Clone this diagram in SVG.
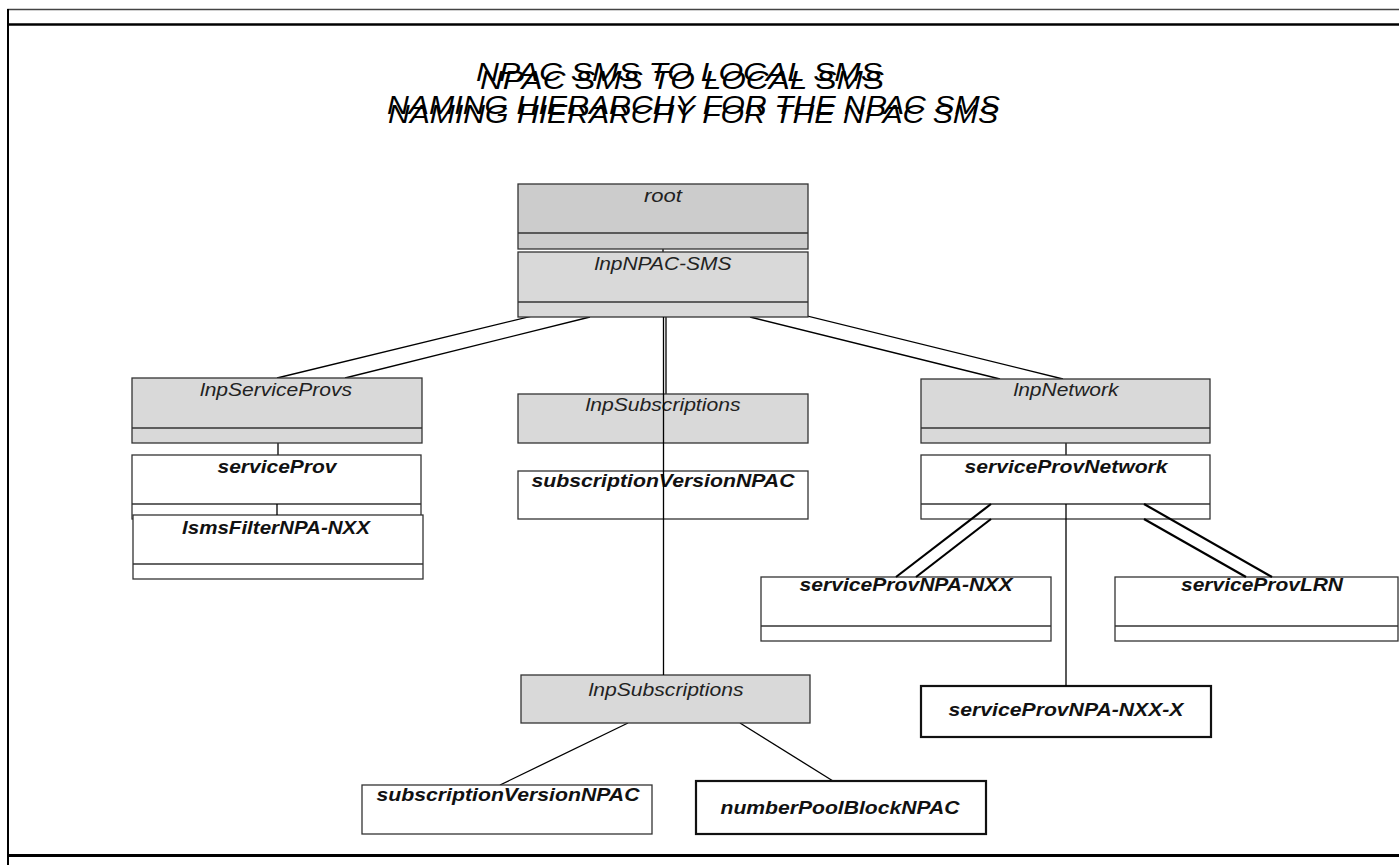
<svg xmlns="http://www.w3.org/2000/svg" width="1399" height="865" viewBox="0 0 1399 865">
<style>
.title{font-family:"Liberation Sans",Arial,sans-serif;font-style:italic;font-size:26px;fill:#000}
.lbl{font-family:"Liberation Sans",Arial,sans-serif;font-style:italic;font-size:18px;fill:#222;text-anchor:middle}
.blbl{font-family:"Liberation Sans",Arial,sans-serif;font-style:italic;font-weight:bold;font-size:18px;fill:#111;text-anchor:middle}
.dark{fill:#cccccc;stroke:#333;stroke-width:1.3}
.grey{fill:#d9d9d9;stroke:#333;stroke-width:1.3}
.white{fill:#fff;stroke:#333;stroke-width:1.3}
.thick{fill:#fff;stroke:#111;stroke-width:2.2}
.div{stroke:#333;stroke-width:1.3}
.con line{stroke:#000;stroke-width:1.3}
.con line.b{stroke-width:2.2}
</style>
<rect width="1399" height="865" fill="#fff"/>
<g id="frame">
<rect x="8" y="9.5" width="1400" height="846" fill="none" stroke="#444" stroke-width="1.5"/>
<line x1="8" y1="24.5" x2="1399" y2="24.5" stroke="#000" stroke-width="2.5"/>
<line x1="8" y1="855.5" x2="1399" y2="855.5" stroke="#000" stroke-width="3"/>
<line x1="8" y1="9" x2="8" y2="865" stroke="#000" stroke-width="2"/>
</g>
<g id="title">
<text class="title" x="476" y="81" textLength="406" lengthAdjust="spacingAndGlyphs">NPAC SMS TO LOCAL SMS</text>
<text class="title" x="480" y="89" textLength="404" lengthAdjust="spacingAndGlyphs">NPAC SMS TO LOCAL SMS</text>
<text class="title" x="387" y="114" textLength="613" lengthAdjust="spacingAndGlyphs">NAMING HIERARCHY FOR THE NPAC SMS</text>
<text class="title" x="388" y="123" textLength="610" lengthAdjust="spacingAndGlyphs">NAMING HIERARCHY FOR THE NPAC SMS</text>
</g>
<g class="con" id="connectors">
<line x1="663" y1="249" x2="663" y2="252"/>
<line x1="666" y1="302" x2="666" y2="394"/>
<line x1="590" y1="302" x2="277" y2="378"/>
<line x1="590" y1="317" x2="345" y2="378"/>
<line x1="750" y1="302" x2="1063" y2="379"/>
<line x1="750" y1="317" x2="1000" y2="379"/>
<line x1="278" y1="428" x2="278" y2="455"/>
<line x1="1066" y1="428" x2="1066" y2="455"/>
<line x1="628" y1="723" x2="500" y2="785"/>
<line x1="740" y1="723" x2="833" y2="781"/>
</g>
<g id="root"><rect class="dark" x="518" y="184" width="290" height="65"/><line class="div" x1="518" y1="233" x2="808" y2="233"/><text class="lbl" x="663" y="202" textLength="38" lengthAdjust="spacingAndGlyphs">root</text></g>
<g id="lnpNPAC"><rect class="grey" x="518" y="252" width="290" height="65"/><line class="div" x1="518" y1="302" x2="808" y2="302"/><text class="lbl" x="663" y="270" textLength="137" lengthAdjust="spacingAndGlyphs">lnpNPAC-SMS</text></g>
<g id="lnpServiceProvs"><rect class="grey" x="132" y="378" width="290" height="65"/><line class="div" x1="132" y1="428" x2="422" y2="428"/><text class="lbl" x="276" y="396" textLength="152" lengthAdjust="spacingAndGlyphs">lnpServiceProvs</text></g>
<g id="serviceProv"><rect class="white" x="132" y="455" width="289" height="64"/><line class="div" x1="132" y1="504" x2="421" y2="504"/><text class="blbl" x="277" y="473" textLength="119" lengthAdjust="spacingAndGlyphs">serviceProv</text></g>
<g id="lsmsFilter"><rect class="white" x="133" y="515" width="290" height="64"/><line class="div" x1="133" y1="564" x2="423" y2="564"/><text class="blbl" x="276" y="534" textLength="188" lengthAdjust="spacingAndGlyphs">lsmsFilterNPA-NXX</text></g>
<g id="lnpSubscriptions1"><rect class="grey" x="518" y="394" width="290" height="49"/><text class="lbl" x="663" y="411" textLength="155" lengthAdjust="spacingAndGlyphs">lnpSubscriptions</text></g>
<g id="subscriptionVersion1"><rect class="white" x="518" y="471" width="290" height="48"/><text class="blbl" x="663" y="487" textLength="263" lengthAdjust="spacingAndGlyphs">subscriptionVersionNPAC</text></g>
<g id="lnpNetwork"><rect class="grey" x="921" y="379" width="289" height="64"/><line class="div" x1="921" y1="428" x2="1210" y2="428"/><text class="lbl" x="1066" y="396" textLength="105" lengthAdjust="spacingAndGlyphs">lnpNetwork</text></g>
<g id="serviceProvNetwork"><rect class="white" x="921" y="455" width="289" height="64"/><line class="div" x1="921" y1="504" x2="1210" y2="504"/><text class="blbl" x="1066" y="473" textLength="203" lengthAdjust="spacingAndGlyphs">serviceProvNetwork</text></g>
<g id="serviceProvNPANXX"><rect class="white" x="761" y="577" width="290" height="64"/><line class="div" x1="761" y1="626" x2="1051" y2="626"/><text class="blbl" x="906" y="591" textLength="213" lengthAdjust="spacingAndGlyphs">serviceProvNPA-NXX</text></g>
<g id="serviceProvLRN"><rect class="white" x="1115" y="577" width="283" height="64"/><line class="div" x1="1115" y1="626" x2="1398" y2="626"/><text class="blbl" x="1262" y="591" textLength="162" lengthAdjust="spacingAndGlyphs">serviceProvLRN</text></g>
<g id="serviceProvNPANXXX"><rect class="thick" x="921" y="686" width="290" height="51"/><text class="blbl" x="1066" y="716" textLength="235" lengthAdjust="spacingAndGlyphs">serviceProvNPA-NXX-X</text></g>
<g id="lnpSubscriptions2"><rect class="grey" x="521" y="675" width="289" height="48"/><text class="lbl" x="666" y="696" textLength="155" lengthAdjust="spacingAndGlyphs">lnpSubscriptions</text></g>
<g id="subscriptionVersion2"><rect class="white" x="362" y="785" width="290" height="49"/><text class="blbl" x="508" y="801" textLength="263" lengthAdjust="spacingAndGlyphs">subscriptionVersionNPAC</text></g>
<g id="numberPoolBlock"><rect class="thick" x="696" y="781" width="290" height="53"/><text class="blbl" x="840" y="814" textLength="239" lengthAdjust="spacingAndGlyphs">numberPoolBlockNPAC</text></g>
<g class="con" id="connectors-over">
<line x1="663.5" y1="317" x2="663.5" y2="675"/>
<line x1="277" y1="504" x2="277" y2="515"/>
<line x1="1066" y1="504" x2="1066" y2="686"/>
<line class="b" x1="991" y1="504" x2="896" y2="577"/>
<line class="b" x1="991" y1="519" x2="916" y2="577"/>
<line class="b" x1="1144" y1="504" x2="1272" y2="577"/>
<line class="b" x1="1144" y1="519" x2="1246" y2="577"/>
</g>
</svg>
